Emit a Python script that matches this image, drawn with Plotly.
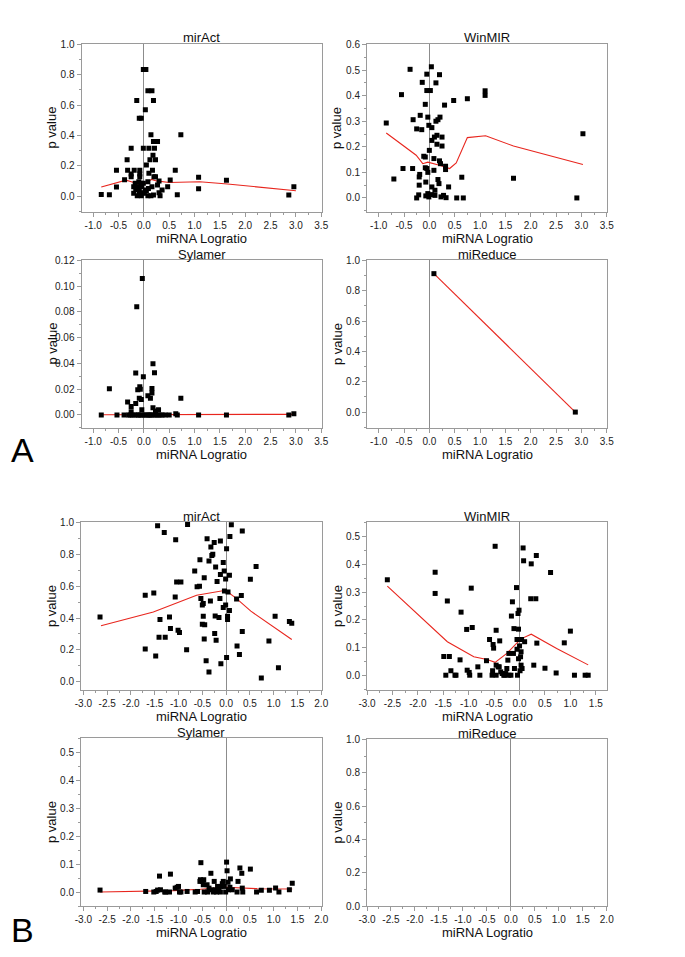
import plotly.graph_objects as go

W, H = 685, 957
FONT = "Liberation Sans, Arial, sans-serif"

# ---------------- DATA ----------------
panel_titles = ["mirAct", "WinMIR", "Sylamer", "miReduce",
                "mirAct", "WinMIR", "Sylamer", "miReduce"]
x_title = "miRNA Logratio"
y_title = "p value"
section_labels = ["A", "B"]

# A: mirAct
a_miract_x = [-0.84, -0.68, -0.54, -0.54, -0.38, -0.33, -0.32, -0.25, -0.25, -0.25, -0.19, -0.2, -0.2,
              -0.14, -0.16, -0.09, -0.05, -0.08, -0.08, -0.08, -0.06, -0.09, -0.05, -0.01, 0.04, -0.01,
              -0.01, 0.03, 0.03, 0.08, 0.16, 0.19, 0.05, 0.10, 0.14, 0.19, 0.21, 0.27, 0.12, 0.18, 0.23,
              0.17, 0.2, 0.23, 0.1, 0.08, 0.30, 0.27, 0.16, 0.08, 0.14, 0.19, 0.3, 0.32, 0.36, 0.47, 0.52,
              0.62, 0.66, 0.73, 1.08, 1.08, 1.63, 2.86, 2.96,
              -0.12, -0.09, -0.04, -0.03, -0.1, -0.17, -0.13, 0.01, 0.05, 0.09]
a_miract_y = [0.011, 0.009, 0.06, 0.17, 0.108, 0.24, 0.17, 0.316, 0.146, 0.128, 0.17, 0.062, 0.018,
              0.63, 0.044, 0.514, 0.514, 0.17, 0.146, 0.128, 0.084, 0.018, 0.002, 0.834, 0.834, 0.316,
              0.084, 0.57, 0.04, 0.695, 0.695, 0.63, 0.205, 0.316, 0.404, 0.36, 0.316, 0.36, 0.24, 0.27, 0.24,
              0.17, 0.128, 0.128, 0.15, 0.095, 0.1, 0.073, 0.062, 0.002, 0.002, 0.007, 0.022, 0.002, 0.04,
              0.062, 0.106, 0.17, 0.009, 0.404, 0.124, 0.049, 0.104, 0.007, 0.062,
              0.062, 0.04, 0.062, 0.022, 0.095, 0.084, 0.002, 0.018, 0.035, 0.05]
a_miract_fit_x = [-0.84, -0.35, -0.2, -0.05, 0.05, 0.15, 0.25, 0.5, 1.1, 1.65, 3.0]
a_miract_fit_y = [0.06, 0.105, 0.09, 0.07, 0.085, 0.11, 0.1, 0.09, 0.095, 0.08, 0.035]

# A: WinMIR
a_winmir_x = [-0.85, -0.70, -0.55, -0.52, -0.38, -0.33, -0.32, -0.25, -0.25, -0.21, -0.2, -0.2, -0.19,
              -0.18, -0.15, -0.14, -0.11, -0.08, -0.08, -0.07, -0.05, -0.05, -0.08, -0.05, -0.03, -0.03,
              -0.01, 0.0, 0.02, 0.04, 0.05, 0.05, -0.07, -0.03, -0.01, 0.04, 0.05, 0.09, 0.10, 0.09, 0.11,
              0.11, 0.13, 0.13, 0.15, 0.15, 0.17, 0.17, 0.19, 0.2, 0.2, 0.21, 0.22, 0.23, 0.25, 0.25, 0.28,
              0.30, 0.32, 0.32, 0.33, 0.38, 0.48, 0.54, 0.64, 0.67, 0.75, 1.10, 1.10, 1.66, 2.91, 3.03]
a_winmir_y = [0.293, 0.074, 0.404, 0.115, 0.503, 0.115, 0.306, 0.0, 0.27, 0.012, 0.05, 0.082, 0.092,
              0.323, 0.267, 0.452, 0.163, 0.366, 0.118, 0.062, 0.484, 0.42, 0.16, 0.115, 0.1, 0.316,
              0.284, 0.186, 0.42, 0.513, 0.275, 0.225, 0.008, 0.017, 0.004, 0.013, 0.043, 0.154, 0.238,
              0.108, 0.03, 0.01, 0.45, 0.3, 0.21, 0.245, 0.306, 0.072, 0.056, 0.482, 0.145, 0.316, 0.134,
              0.004, 0.238, 0.203, 0.01, 0.363, 0.124, 0.111, 0.001, 0.043, 0.381, 0.0, 0.081, 0.0, 0.388,
              0.419, 0.401, 0.077, 0.0, 0.251]
a_winmir_fit_x = [-0.85, -0.33, -0.26, -0.13, -0.03, 0.2, 0.4, 0.53, 0.75, 1.11, 1.66, 3.03]
a_winmir_fit_y = [0.254, 0.176, 0.167, 0.134, 0.14, 0.128, 0.115, 0.137, 0.236, 0.243, 0.203, 0.131]

# A: Sylamer
a_sylamer_x = [-0.84, -0.68, -0.53, -0.39, -0.32, -0.25, -0.25, -0.16, -0.14, -0.16, -0.12, -0.09, -0.08,
               -0.07, -0.05, -0.04, -0.03, -0.01, 0.08, 0.13, 0.16, 0.16, 0.18, 0.21, 0.18, 0.23, 0.29,
               0.73, 0.63, 1.08, 1.63, 2.86, 2.96,
               -0.3, -0.27, -0.22, -0.18, -0.12, -0.1, -0.06, -0.02, 0.02, 0.06, 0.1, 0.12, 0.15, 0.2,
               0.24, 0.28, 0.32, 0.36, 0.42, 0.5, 0.66]
a_sylamer_y = [0.0, 0.0204, 0.0, 0.0, 0.01, 0.0065, 0.0026, 0.0325, 0.084, 0.009, 0.0196, 0.013, 0.022,
               0.02, 0.012, 0.004, 0.106, 0.0297, 0.015, 0.013, 0.0206, 0.017, 0.0397, 0.0328, 0.0057,
               0.003, 0.004, 0.013, 0.001, 0.0, 0.0, 0.0, 0.001,
               0.0, 0.0, 0.0, 0.0, 0.0, 0.0, 0.0, 0.0, 0.0, 0.0, 0.0, 0.0, 0.0, 0.0,
               0.0, 0.0, 0.0, 0.0, 0.0, 0.0, 0.0]
a_sylamer_fit_x = [-0.84, 0.0, 3.0]
a_sylamer_fit_y = [0.0002, 0.0003, 0.0005]

# A: miReduce
a_mireduce_x = [0.09, 2.88]
a_mireduce_y = [0.913, 0.0]
a_mireduce_fit_x = [0.09, 2.88]
a_mireduce_fit_y = [0.913, 0.0]

# B: mirAct
b_miract_x = [-2.65, -1.70, -1.70, -1.52, -1.48, -1.44, -1.41, -1.39, -1.30, -1.28, -1.19, -1.17, -1.06,
              -1.07, -1.04, -1.01, -0.98, -0.95, -0.83, -0.81, -0.66, -0.61, -0.56, -0.55, -0.53, -0.50,
              -0.48, -0.48, -0.50, -0.45, -0.46, -0.46, -0.40, -0.42, -0.36, -0.36, -0.33, -0.32, -0.30,
              -0.28, -0.25, -0.24, -0.22, -0.23, -0.21, -0.19, -0.15, -0.12, -0.12, -0.13, -0.11, -0.06,
              -0.06, -0.04, -0.035, -0.01, -0.01, 0.01, 0.01, 0.03, 0.03, 0.04, 0.07, 0.07, 0.08, 0.11,
              0.22, 0.23, 0.28, 0.32, 0.34, 0.34, 0.51, 0.63, 0.74, 0.90, 1.03, 1.10, 1.33, 1.38]
b_miract_y = [0.407, 0.205, 0.543, 0.557, 0.161, 0.979, 0.28, 0.39, 0.937, 0.28, 0.407, 0.334, 0.891,
              0.532, 0.626, 0.324, 0.309, 0.626, 0.2, 0.988, 0.695, 0.597, 0.599, 0.766, 0.522, 0.482,
              0.491, 0.411, 0.361, 0.357, 0.653, 0.269, 0.898, 0.132, 0.758, 0.061, 0.507, 0.846, 0.793,
              0.8, 0.875, 0.303, 0.72, 0.413, 0.261, 0.63, 0.403, 0.883, 0.674, 0.522, 0.113, 0.749,
              0.466, 0.695, 0.57, 0.645, 0.482, 0.835, 0.152, 0.39, 0.411, 0.564, 0.447, 0.668, 0.912,
              0.985, 0.52, 0.225, 0.171, 0.541, 0.315, 0.946, 0.643, 0.724, 0.023, 0.255, 0.411, 0.088,
              0.378, 0.367]
b_miract_fit_x = [-2.63, -1.53, -0.62, -0.01, 0.22, 0.52, 1.38]
b_miract_fit_y = [0.351, 0.438, 0.543, 0.574, 0.522, 0.443, 0.265]

# B: WinMIR
b_winmir_x = [-2.60, -1.66, -1.66, -1.49, -1.45, -1.42, -1.38, -1.35, -1.27, -1.25, -1.17, -1.15, -1.04,
              -1.03, -0.99, -0.98, -0.95, -0.93, -0.82, -0.78, -0.65, -0.59, -0.54, -0.53, -0.52, -0.51,
              -0.48, -0.46, -0.46, -0.46, -0.42, -0.39, -0.40, -0.37, -0.34, -0.31, -0.29, -0.27, -0.25,
              -0.23, -0.21, -0.21, -0.17, -0.16, -0.14, -0.12, -0.11, -0.10, -0.06, -0.05, -0.05, -0.04,
              -0.03, -0.01, -0.02, -0.02, 0.0, 0.01, 0.02, 0.03, 0.03, 0.04, 0.05, 0.07, 0.08, 0.10, 0.23,
              0.22, 0.28, 0.32, 0.33, 0.34, 0.50, 0.61, 0.72, 0.88, 1.0, 1.08, 1.29, 1.35]
b_winmir_y = [0.344, 0.371, 0.295, 0.069, 0.002, 0.268, 0.069, 0.018, 0.002, 0.002, 0.057, 0.228, 0.166,
              0.02, 0.012, 0.002, 0.314, 0.173, 0.032, 0.002, 0.054, 0.13, 0.002, 0.018, 0.112, 0.099,
              0.464, 0.163, 0.038, 0.002, 0.032, 0.125, 0.032, 0.014, 0.008, 0.002, 0.002, 0.008, 0.026,
              0.056, 0.08, 0.002, 0.002, 0.214, 0.265, 0.08, 0.169, 0.026, 0.316, 0.13, 0.095, 0.002,
              0.223, 0.235, 0.167, 0.061, 0.107, 0.018, 0.068, 0.086, 0.038, 0.13, 0.026, 0.458, 0.412,
              0.122, 0.401, 0.276, 0.038, 0.276, 0.431, 0.117, 0.027, 0.37, 0.01, 0.118, 0.16, 0.002,
              0.002, 0.002]
b_winmir_fit_x = [-2.6, -1.42, -0.90, -0.64, -0.48, -0.25, -0.05, 0.05, 0.23, 0.40, 0.73, 1.35]
b_winmir_fit_y = [0.321, 0.122, 0.068, 0.058, 0.048, 0.08, 0.118, 0.134, 0.149, 0.131, 0.098, 0.039]

# B: Sylamer
b_sylamer_x = [-2.65, -1.69, -1.52, -1.47, -1.44, -1.40, -1.38, -1.29, -1.27, -1.17, -1.19, -1.07, -1.03,
               -1.0, -0.98, -0.95, -0.82, -0.65, -0.60, -0.55, -0.54, -0.53, -0.50, -0.48, -0.47, -0.46,
               -0.40, -0.39, -0.36, -0.32, -0.31, -0.27, -0.25, -0.22, -0.20, -0.18, -0.15, -0.12, -0.11,
               -0.08, -0.06, -0.04, -0.01, 0.01, 0.02, 0.04, 0.05, 0.08, 0.09, 0.13, 0.23, 0.25, 0.29,
               0.33, 0.34, 0.35, 0.51, 0.64, 0.74, 0.91, 1.04, 1.11, 1.33, 1.39]
b_sylamer_y = [0.007, 0.002, 0.0, 0.002, 0.007, 0.057, 0.008, 0.0, 0.0, 0.064, 0.0, 0.014, 0.017,
               0.02, 0.0, 0.0, 0.002, 0.0, 0.002, 0.038, 0.044, 0.105, 0.038, 0.026, 0.044, 0.0,
               0.026, 0.0, 0.014, 0.067, 0.008, 0.0, 0.038, 0.008, 0.0, 0.02, 0.014, 0.0, 0.02,
               0.03, 0.038, 0.02, 0.0, 0.107, 0.076, 0.035, 0.008, 0.017, 0.047, 0.008, 0.0, 0.038, 0.086,
               0.067, 0.014, 0.0, 0.082, 0.0, 0.006, 0.006, 0.014, 0.0, 0.008, 0.031]
b_sylamer_fit_x = [-2.65, -1.10, -0.54, 0.0, 0.65, 1.39]
b_sylamer_fit_y = [0.0, 0.005, 0.01, 0.017, 0.012, 0.011]

# B: miReduce (no data)
b_mireduce_x = []
b_mireduce_y = []

# tick labels
a_xticks = [-1.0, -0.5, 0.0, 0.5, 1.0, 1.5, 2.0, 2.5, 3.0, 3.5]
b_xticks = [-3.0, -2.5, -2.0, -1.5, -1.0, -0.5, 0.0, 0.5, 1.0, 1.5, 2.0]
b_xticks_winmir = [-3.0, -2.5, -2.0, -1.5, -1.0, -0.5, 0.0, 0.5, 1.0, 1.5]
yticks_0_1 = [0.0, 0.2, 0.4, 0.6, 0.8, 1.0]
yticks_0_06 = [0.0, 0.1, 0.2, 0.3, 0.4, 0.5, 0.6]
yticks_0_012 = [0.0, 0.02, 0.04, 0.06, 0.08, 0.10, 0.12]
yticks_0_05 = [0.0, 0.1, 0.2, 0.3, 0.4, 0.5]

# ---------------- LAYOUT (pixel boxes) ----------------
# (left, right, top, bottom) in pixels
boxes = [
    (81.5, 321.5, 44, 212), (367, 607, 44, 212),
    (81.5, 321.5, 260, 428), (367, 607, 260, 428),
    (81, 321.5, 522, 690), (367, 607, 522, 690),
    (81, 321.5, 738, 906), (367, 607, 739, 906),
]
xranges = [[-1.23, 3.505], [-1.23, 3.505], [-1.23, 3.505], [-1.23, 3.505],
           [-3.05, 2.005], [-3.0, 1.72], [-3.05, 2.005], [-3.0, 2.005]]
yranges = [[-0.105, 1.003], [-0.055, 0.602], [-0.0101, 0.1203], [-0.105, 1.003],
           [-0.052, 1.003], [-0.051, 0.551], [-0.05, 0.551], [0.0, 1.003]]
xtick_sets = [a_xticks, a_xticks, a_xticks, a_xticks, b_xticks, b_xticks_winmir, b_xticks, b_xticks]
ytick_sets = [yticks_0_1, yticks_0_06, yticks_0_012, yticks_0_1,
              yticks_0_1, yticks_0_05, yticks_0_05, yticks_0_1]
yfmt = ["{:.1f}", "{:.1f}", "{:.2f}", "{:.1f}", "{:.1f}", "{:.1f}", "{:.1f}", "{:.1f}"]

scatter_data = [(a_miract_x, a_miract_y), (a_winmir_x, a_winmir_y), (a_sylamer_x, a_sylamer_y),
                (a_mireduce_x, a_mireduce_y), (b_miract_x, b_miract_y), (b_winmir_x, b_winmir_y),
                (b_sylamer_x, b_sylamer_y), (b_mireduce_x, b_mireduce_y)]
fit_data = [(a_miract_fit_x, a_miract_fit_y), (a_winmir_fit_x, a_winmir_fit_y),
            (a_sylamer_fit_x, a_sylamer_fit_y), (a_mireduce_fit_x, a_mireduce_fit_y),
            (b_miract_fit_x, b_miract_fit_y), (b_winmir_fit_x, b_winmir_fit_y),
            (b_sylamer_fit_x, b_sylamer_fit_y), None]


def midpoints(ticks, lo, hi):
    step = ticks[1] - ticks[0]
    out = []
    k = ticks[0] - step / 2
    while k <= hi:
        if k >= lo:
            out.append(round(k, 6))
        k += step
    return out


fig = go.Figure()
AX = "#9a9a9a"
annotations = []

for i in range(8):
    n = "" if i == 0 else str(i + 1)
    xa, ya = "x" + n, "y" + n
    l, r, t, b = boxes[i]
    fig.update_layout(**{
        "xaxis" + n: dict(
            domain=[l / W, r / W], anchor=ya, range=xranges[i],
            tickmode="array",
            tickvals=xtick_sets[i], ticktext=["{:.1f}".format(v) for v in xtick_sets[i]],
            ticks="outside", ticklen=4, tickcolor=AX, tickwidth=1,
            minor=dict(ticks="outside", ticklen=2, tickcolor=AX, tickmode="array",
                       tickvals=midpoints(xtick_sets[i], *xranges[i])),
            showline=True, linecolor=AX, linewidth=1, mirror=True,
            showgrid=False, zeroline=True, zerolinecolor="#8c8c8c", zerolinewidth=1,
            tickfont=dict(family=FONT, size=10, color="#222"), automargin=False,
        ),
        "yaxis" + n: dict(
            domain=[1 - b / H, 1 - t / H], anchor=xa, range=yranges[i],
            tickmode="array",
            tickvals=ytick_sets[i], ticktext=[yfmt[i].format(v) for v in ytick_sets[i]],
            ticks="outside", ticklen=4, tickcolor=AX, tickwidth=1,
            minor=dict(ticks="outside", ticklen=2, tickcolor=AX, tickmode="array",
                       tickvals=midpoints(ytick_sets[i], *yranges[i])),
            showline=True, linecolor=AX, linewidth=1, mirror=True,
            showgrid=False, zeroline=False,
            tickfont=dict(family=FONT, size=10, color="#222"), automargin=False,
        ),
    })
    sx, sy = scatter_data[i]
    if fit_data[i] is not None:
        fx, fy = fit_data[i]
        fig.add_trace(go.Scatter(x=fx, y=fy, mode="lines", xaxis=xa, yaxis=ya,
                                 line=dict(color="#e8261e", width=1.1), showlegend=False,
                                 hoverinfo="skip"))
    fig.add_trace(go.Scatter(x=sx, y=sy, mode="markers", xaxis=xa, yaxis=ya,
                             marker=dict(symbol="square", size=5, color="black",
                                         line=dict(width=0)),
                             showlegend=False))
    # panel title
    annotations.append(dict(text=panel_titles[i], xref="paper", yref="paper",
                            x=(l + r) / 2 / W, y=1 - t / H, xanchor="center", yanchor="bottom",
                            yshift=-2.5, borderpad=0, showarrow=False,
                            font=dict(family=FONT, size=13, color="#111")))
    # x title
    annotations.append(dict(text=x_title, xref="paper", yref="paper",
                            x=(l + r) / 2 / W, y=1 - (b + 26.5) / H, xanchor="center", yanchor="middle",
                            borderpad=0, showarrow=False, font=dict(family=FONT, size=13, color="#111")))
    # y title
    annotations.append(dict(text=y_title, xref="paper", yref="paper", textangle=-90,
                            x=(l - 30) / W, y=1 - (t + b) / 2 / H, xanchor="center", yanchor="middle",
                            showarrow=False, font=dict(family=FONT, size=13, color="#111")))

annotations.append(dict(text=section_labels[0], xref="paper", yref="paper", x=22 / W, y=1 - 450 / H,
                        xanchor="center", yanchor="middle", showarrow=False,
                        font=dict(family=FONT, size=34, color="black")))
annotations.append(dict(text=section_labels[1], xref="paper", yref="paper", x=22 / W, y=1 - 930 / H,
                        xanchor="center", yanchor="middle", showarrow=False,
                        font=dict(family=FONT, size=34, color="black")))

fig.update_layout(width=W, height=H, autosize=False, margin=dict(l=0, r=0, t=0, b=0, pad=0),
                  paper_bgcolor="white", plot_bgcolor="white", hovermode=False,
                  annotations=annotations, font=dict(family=FONT))

fig.write_html("out.html",
               config={"displayModeBar": False, "responsive": False},
               post_script="document.body.style.margin='0px';document.body.style.overflow='hidden';")
